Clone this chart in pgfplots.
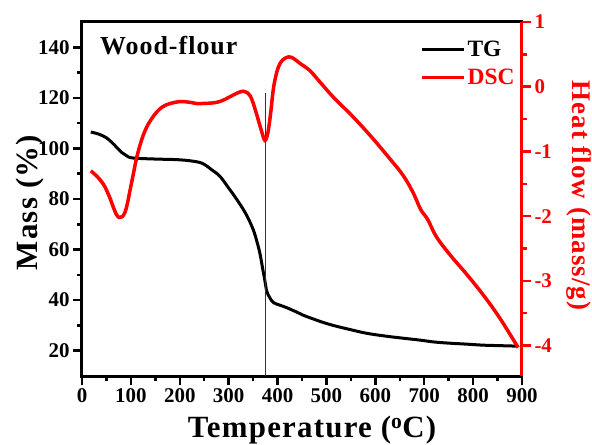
\documentclass[border=0pt]{standalone}
\usepackage{fontspec}
\setmainfont{Liberation Serif}
\newfontfamily\spaced[LetterSpace=4]{Liberation Serif}
\usepackage{pgfplots}
\pgfplotsset{compat=1.18}

\pgfplotstableread{
T mass
18 106.5
35 105.6
50 104.2
62 102.2
72 100.2
82 98.3
92 97.0
105 96.2
150 95.8
200 95.5
235 94.7
250 93.7
265 91.6
282 89.0
299 84.6
316 80.0
335 74.2
350 68
358 63
364 58.4
370 52
374 47.8
378 43.5
384 41
392 39
405 38
419 37
440 35.2
453 34
487 31.6
514 30
550 28.3
582 26.9
620 25.8
650 25.1
691 24.2
718 23.5
750 23
787 22.6
820 22.2
855 22
892 21.8
}\tgdata

\pgfplotstableread{
T hf
18 -1.30
30 -1.38
44 -1.51
55 -1.68
63 -1.84
70 -1.97
76 -2.02
82 -2.01
88 -1.94
93 -1.80
98 -1.61
105 -1.35
112 -1.09
122 -0.82
132 -0.63
142 -0.50
153 -0.39
165 -0.31
180 -0.26
200 -0.23
220 -0.24
235 -0.26
268 -0.25
285 -0.22
299 -0.17
309 -0.13
320 -0.09
330 -0.07
338 -0.09
344 -0.14
350 -0.25
357 -0.42
362 -0.55
367 -0.68
371 -0.78
374 -0.83
377 -0.80
381 -0.68
386 -0.40
391 -0.06
396 0.15
402 0.31
410 0.41
422 0.46
432 0.44
446 0.36
466 0.25
487 0.07
514 -0.16
555 -0.47
596 -0.81
637 -1.18
652 -1.32
666 -1.48
680 -1.68
693 -1.90
707 -2.05
725 -2.32
753 -2.60
787 -2.90
821 -3.22
855 -3.58
892 -4.03
}\dscdata

\begin{document}
\begin{tikzpicture}
\pgfplotsset{
  common/.style={
    scale only axis, width=440bp, height=354bp,
    xmin=0, xmax=900,
    tick align=outside,
    major tick length=9bp, minor tick length=5bp,
    /pgf/number format/assume math mode=true,
    tick label style={font=\fontsize{21}{21}\selectfont\bfseries},
  }
}
\begin{axis}[common,
  ymin=10, ymax=150,
  axis line style={line width=3bp},
  tick style={line width=2.5bp, black},
  xtick={0,100,...,900}, minor x tick num=1,
  ytick={20,40,...,140}, minor y tick num=1,
  xtick pos=bottom, ytick pos=left,
  xlabel={Temperature (\textsuperscript{o}C)},
  xlabel style={font=\spaced\fontsize{31}{31}\selectfont\bfseries, at={(axis description cs:0.523,-0.175)}, anchor=base},
  ylabel={Mass (\%)},
  ylabel style={font=\spaced\fontsize{31}{31}\selectfont\bfseries, at={(axis description cs:-0.102,0.49)}, anchor=base},
  legend style={draw=none, fill=none, at={(axis description cs:0.768,0.952)}, anchor=north west,
    font=\fontsize{23.5}{23.5}\selectfont\bfseries, row sep=7bp, inner sep=0pt},
  legend cell align=left,
  legend image code/.code={\draw[#1] (0bp,0bp) -- (42bp,0bp);},
]
\addplot[black, line width=3bp, smooth, tension=0.6] table[x=T, y=mass] {\tgdata};
\addlegendentry{TG}
\addlegendimage{red, line width=3.5bp}
\addlegendentry{\textcolor{red}{DSC}}
\addplot[black!80, line width=0.8bp, forget plot] coordinates {(375,10) (375,122)};
\node[anchor=base west, font=\spaced\fontsize{26}{26}\selectfont\bfseries] at (axis description cs:0.033,0.907) {Wood-flour};
\end{axis}
\begin{axis}[common,
  ymin=-4.47, ymax=1,
  axis x line=none,
  axis y line*=right,
  y axis line style={red, line width=3bp, -},
  ytick={-4,-3,-2,-1,0,1}, yticklabels={-4,-3,-2,-1,0,1},
  minor y tick num=1,
  tick style={line width=2.5bp, red},
  yticklabel style={red},
  ylabel={Heat flow (mass/g)},
  ylabel style={red, font=\spaced\fontsize{27}{27}\selectfont\bfseries, rotate=180, at={(axis description cs:1.114,0.51)}, anchor=base},
]
\addplot[red, line width=3.5bp, smooth, tension=0.6] table[x=T, y=hf] {\dscdata};
\end{axis}
\pgfresetboundingbox
\path[use as bounding box] (-82bp,-69bp) rectangle (510bp,376bp);
\end{tikzpicture}
\end{document}
